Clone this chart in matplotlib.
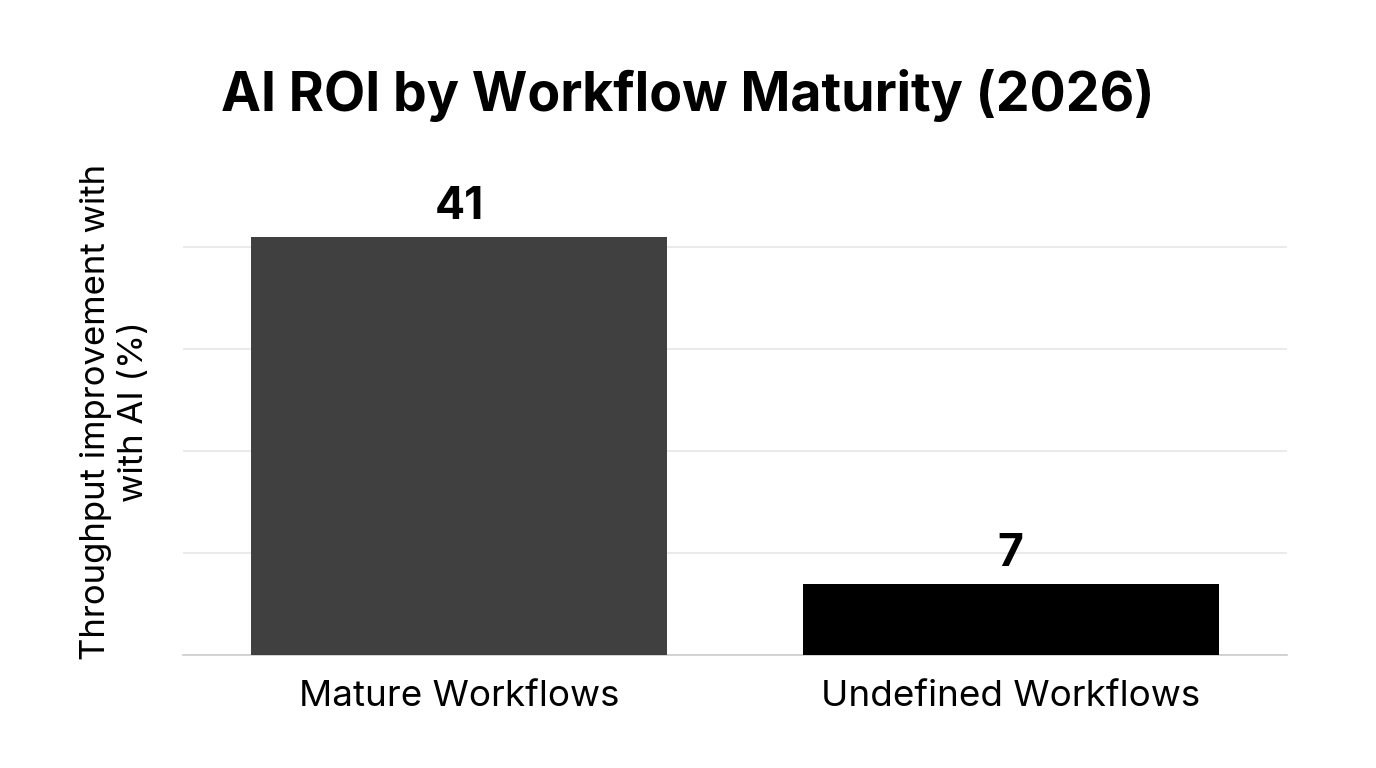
import matplotlib
matplotlib.use("Agg")
import matplotlib.pyplot as plt

categories = ["Mature Workflows", "Undefined Workflows"]
values = [41, 7]
colors = ["#404040", "#000000"]
grid_ticks = [0, 10, 20, 30, 40]

plt.rcParams['font.family'] = ['Inter', 'DejaVu Sans']

fig = plt.figure(figsize=(13.76, 7.68), dpi=100)
ax = fig.add_axes([0.133, 0.147, 0.802, 0.598])

x = range(len(categories))
bars = ax.bar(x, values, width=0.754, color=colors, zorder=3)
for xi, v in zip(x, values):
    ax.annotate(str(v), (xi, v), xytext=(0, 6), textcoords="offset points",
                ha="center", va="bottom", fontsize=32, fontweight="bold", color="black")

ax.set_xlim(-0.5, 1.5)
ax.set_ylim(0, 45)
ax.set_yticks(grid_ticks)
ax.set_yticklabels([])
ax.tick_params(axis='y', length=0)
ax.tick_params(axis='x', length=0, labelsize=26.5, pad=18)
ax.set_xticks(list(x))
ax.set_xticklabels(categories)
ax.grid(axis='y', color='#e6e6e6', linewidth=1.2, zorder=0)
for s in ['top', 'right', 'left']:
    ax.spines[s].set_visible(False)
ax.spines['bottom'].set_color('#cccccc')
ax.spines['bottom'].set_linewidth(1.2)

ax.set_ylabel("Throughput improvement with\nwith AI (%)", fontsize=25, linespacing=1.25)
ax.yaxis.set_label_coords(-0.03, 0.53)
fig.text(0.5, 0.876, "AI ROI by Workflow Maturity (2026)", fontsize=38.6,
         fontweight="bold", ha="center", va="center")

fig.savefig("out.png", dpi=100, facecolor="white")
